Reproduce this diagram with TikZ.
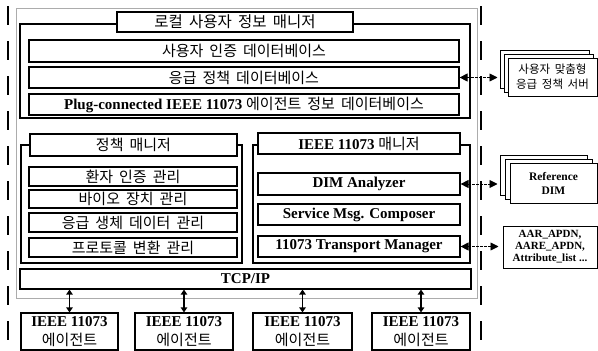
\documentclass[tikz,border=0pt]{standalone}
\usepackage{fontspec}
\setmainfont{Liberation Serif}
\newfontfamily\krfont[WordSpace=1.8]{Noto Sans CJK KR}
\usetikzlibrary{arrows.meta}
\begin{document}
\begin{tikzpicture}[x=1pt,y=-1pt,
  bx/.style={draw=black,line width=1.2pt,fill=white,inner sep=0pt,align=center},
  card/.style={draw=black,line width=1pt,fill=white,inner sep=0pt,align=center},
  dl/.style={line width=1.4pt,dash pattern=on 19pt off 16pt},
  darr/.style={line width=0.9pt,dash pattern=on 2.5pt off 1.5pt,{Triangle[length=8pt,width=8pt]}-{Triangle[length=8pt,width=8pt]}},
  varr/.style={line width=1.3pt,{Triangle[length=5pt,width=6.5pt]}-{Triangle[length=5pt,width=6.5pt]}},
  kt/.style={font=\krfont\fontsize{15}{16}\selectfont},
  bt/.style={font=\fontsize{15}{17}\selectfont\bfseries},
]
\useasboundingbox (0,0) rectangle (598,351);
\fill[white] (0,0) rectangle (598,351);
% dashed boundary lines
\coordinate (dlt) at (8,6); \coordinate (dlb) at (8,351);
\coordinate (drt) at (481,6); \coordinate (drb) at (481,351);
\draw[dl] (dlt) -- (dlb);
\draw[dl] (drt) -- (drb);
% outer gray frame
\node[draw=gray!65,line width=0.8pt,minimum width=461pt,minimum height=290pt,inner sep=0pt] (outer) at (246.5,153) {};
% local user info manager
\node[bx,minimum width=450pt,minimum height=94pt] (lframe) at (245,71) {};
\node[bx,minimum width=236pt,minimum height=20pt,font=\krfont\fontsize{15.5}{16}\selectfont] (ltitle) at (235,22) {로컬 사용자 정보 매니저};
\node[bx,minimum width=430pt,minimum height=22pt,kt] (b1) at (244,51) {사용자 인증 데이터베이스};
\node[bx,minimum width=430pt,minimum height=21pt,kt] (b2) at (244,77.5) {응급 정책 데이터베이스};
\node[bx,minimum width=430pt,minimum height=21pt,bt] (b3) at (244,104.5) {Plug-connected IEEE 11073 {\krfont\mdseries\fontsize{15}{16}\selectfont 에이전트 정보 데이터베이스}};
% policy manager
\node[bx,minimum width=221pt,minimum height=118pt] (pframe) at (131.5,204) {};
\node[bx,minimum width=207pt,minimum height=22pt,kt] (ptitle) at (133.5,145) {정책 매니저};
\node[bx,minimum width=208pt,minimum height=19pt,kt] (p1) at (133,176.5) {환자 인증 관리};
\node[bx,minimum width=208pt,minimum height=18pt,kt] (p2) at (133,199) {바이오 장치 관리};
\node[bx,minimum width=208pt,minimum height=19pt,kt] (p3) at (133,222.5) {응급 생체 데이터 관리};
\node[bx,minimum width=208pt,minimum height=19pt,kt] (p4) at (133,247.5) {프로토콜 변환 관리};
% IEEE 11073 manager
\node[bx,minimum width=217pt,minimum height=118pt] (iframe) at (361.5,204) {};
\node[bx,minimum width=202pt,minimum height=21pt,bt] (ititle) at (359,143.5) {IEEE 11073 {\krfont\mdseries\fontsize{15}{16}\selectfont 매니저}};
\node[bx,minimum width=202pt,minimum height=22pt,bt] (dim) at (359,184) {DIM Analyzer};
\node[bx,minimum width=202pt,minimum height=21pt,bt] (svc) at (359,214.5) {Service Msg. Composer};
\node[bx,minimum width=202pt,minimum height=21pt,bt] (tm) at (359,246.5) {11073 Transport Manager};
% TCP/IP
\node[bx,minimum width=451pt,minimum height=20pt,bt] (tcp) at (245.5,279) {TCP/IP};
% agents
\foreach \n/\cx/\w in {a1/69.5/97, a2/184/98, a3/302.5/99, a4/421/98}{
  \node[bx,minimum width=\w pt,minimum height=37pt,font=\fontsize{15}{20}\selectfont\bfseries] (\n) at (\cx,331.5) {IEEE 11073\\[-1pt]{\krfont\mdseries\fontsize{15}{16}\selectfont 에이전트}};
  \draw[varr] (\n.north |- tcp.south) -- (\n.north);
}
% external: emergency policy server stack
\node[card,minimum width=89pt,minimum height=38pt] (s1) at (544.5,69) {};
\node[card,minimum width=89pt,minimum height=38pt] (s2) at (548.5,73) {};
\node[card,minimum width=89pt,minimum height=38pt,font=\krfont\fontsize{11.5}{15}\selectfont] (s3) at (552.5,77) {사용자 맞춤형\\응급 정책 서버};
\draw[darr,shorten >=2pt] (b2.east) -- (b2.east -| s1.west);
% reference DIM stack
\node[card,minimum width=87pt,minimum height=40pt] (r1) at (543.5,175) {};
\node[card,minimum width=87pt,minimum height=40pt] (r2) at (548.5,179) {};
\node[card,minimum width=87pt,minimum height=40pt,font=\fontsize{11.5}{14}\selectfont\bfseries] (r3) at (553.5,183) {Reference\\DIM};
\draw[darr,shorten >=2pt] (dim.east) -- (dim.east -| r1.west);
% APDU box
\node[card,minimum width=94pt,minimum height=42pt,font=\fontsize{11}{12}\selectfont\bfseries] (apdu) at (550,247) {AAR\_APDN,\\AARE\_APDN,\\Attribute\_list ...};
\draw[darr,shorten >=4pt] (tm.east) -- (tm.east -| apdu.west);
\end{tikzpicture}
\end{document}
